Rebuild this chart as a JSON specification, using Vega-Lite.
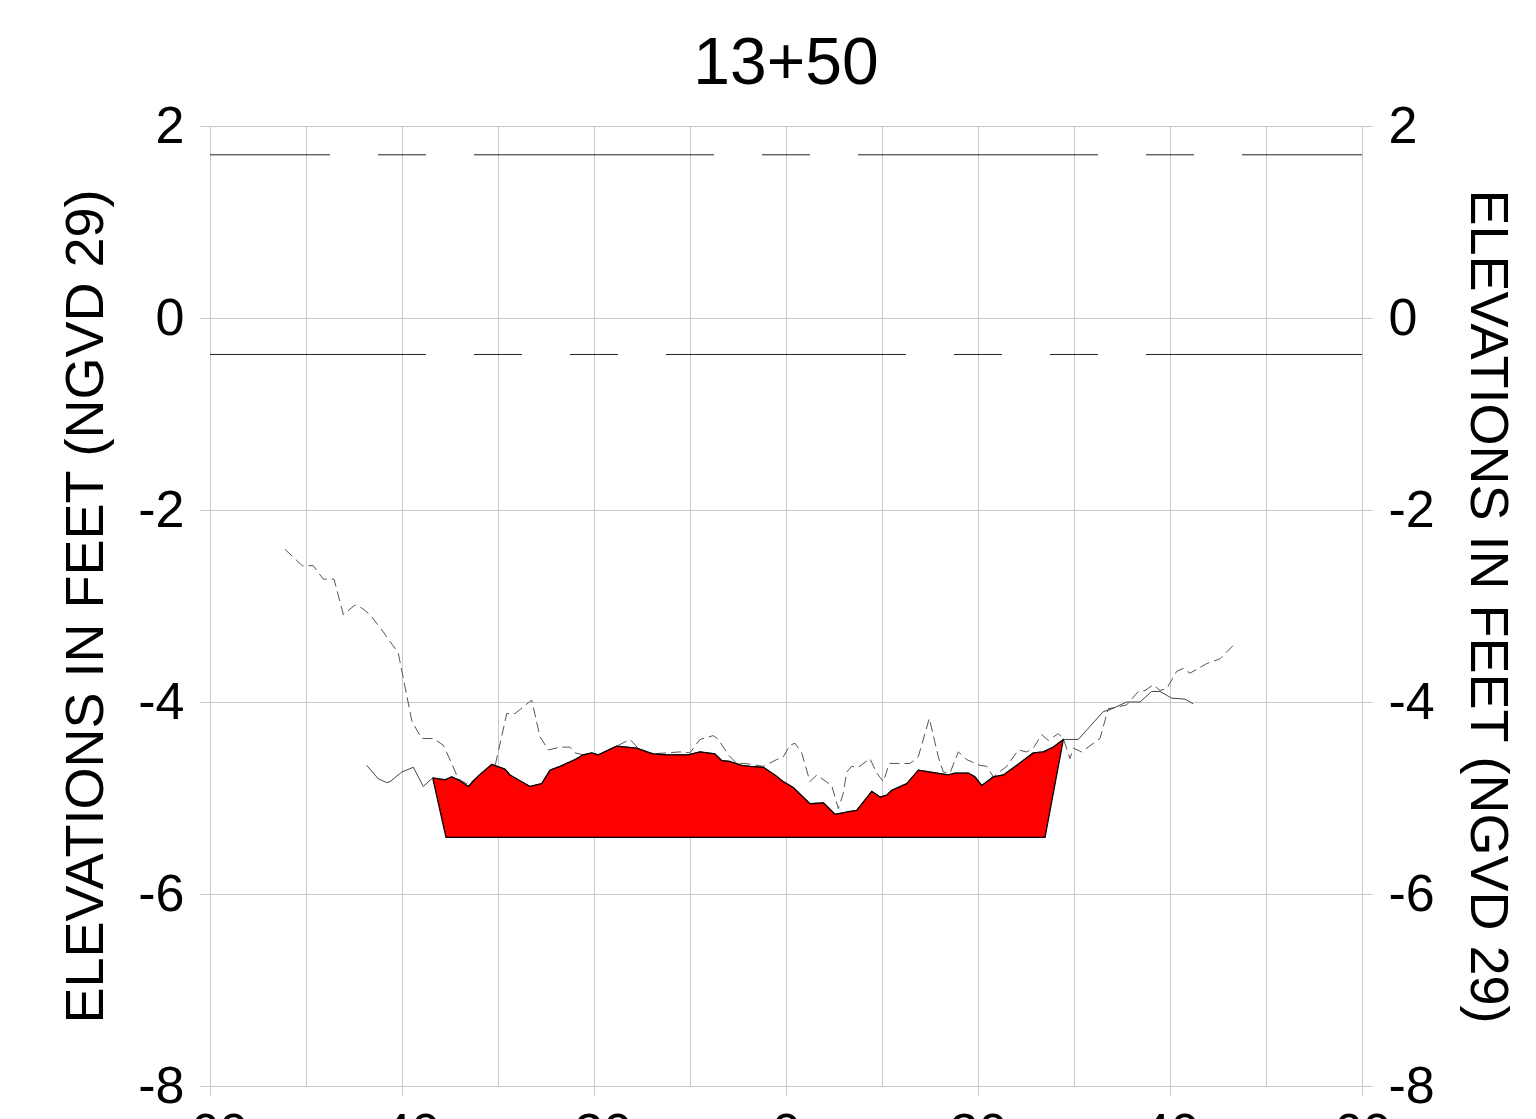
{
  "$schema": "https://vega.github.io/schema/vega-lite/v6.json",
  "width": 1152,
  "height": 960,
  "autosize": "none",
  "padding": {"left": 210, "top": 126, "right": 174, "bottom": 33},
  "background": "white",
  "title": {"text": "13+50", "fontSize": 66, "font": "Liberation Sans", "fontWeight": "normal", "color": "black", "anchor": "middle", "baseline": "alphabetic", "offset": -50},
  "config": {
    "view": {"stroke": null},
    "axis": {
      "labelFont": "Liberation Sans", "titleFont": "Liberation Sans",
      "labelFontSize": 52, "titleFontSize": 54,
      "labelColor": "black", "titleColor": "black", "titleFontWeight": "normal",
      "domain": false, "gridColor": "#c8c8c8", "gridWidth": 1, "gridOpacity": 1,
      "tickColor": "#c8c8c8", "tickSize": 10, "tickWidth": 1,
      "labelOverlap": false, "labelFlush": false
    }
  },
  "datasets": {
    "survey1": [
      {"station": -52.19, "elev": -2.41}, {"station": -50.39, "elev": -2.58}, {"station": -49.24, "elev": -2.58},
      {"station": -48.2, "elev": -2.72}, {"station": -47.08, "elev": -2.72}, {"station": -46.11, "elev": -3.09},
      {"station": -44.9, "elev": -2.99}, {"station": -44.2, "elev": -3.02}, {"station": -43.33, "elev": -3.09},
      {"station": -41.95, "elev": -3.27}, {"station": -40.39, "elev": -3.49}, {"station": -38.99, "elev": -4.19},
      {"station": -38.47, "elev": -4.29}, {"station": -37.95, "elev": -4.38}, {"station": -36.74, "elev": -4.38},
      {"station": -35.7, "elev": -4.45}, {"station": -34.82, "elev": -4.64}, {"station": -34.14, "elev": -4.8},
      {"station": -33.1, "elev": -4.86}, {"station": -31.9, "elev": -4.76}, {"station": -30.31, "elev": -4.67},
      {"station": -29.09, "elev": -4.12}, {"station": -28.23, "elev": -4.12}, {"station": -26.49, "elev": -3.98},
      {"station": -25.63, "elev": -4.36}, {"station": -24.76, "elev": -4.5}, {"station": -23.54, "elev": -4.47},
      {"station": -22.5, "elev": -4.47}, {"station": -21.98, "elev": -4.53}, {"station": -21.15, "elev": -4.55},
      {"station": -19.6, "elev": -4.55}, {"station": -17.64, "elev": -4.46}, {"station": -16.25, "elev": -4.39},
      {"station": -15.42, "elev": -4.48}, {"station": -13.85, "elev": -4.54}, {"station": -11.04, "elev": -4.52},
      {"station": -10.0, "elev": -4.53}, {"station": -8.96, "elev": -4.39}, {"station": -7.57, "elev": -4.35},
      {"station": -7.05, "elev": -4.39}, {"station": -6.01, "elev": -4.55}, {"station": -5.14, "elev": -4.64},
      {"station": -4.27, "elev": -4.64}, {"station": -2.36, "elev": -4.67}, {"station": -0.97, "elev": -4.6},
      {"station": -0.28, "elev": -4.57}, {"station": 0.42, "elev": -4.45}, {"station": 0.94, "elev": -4.43},
      {"station": 1.64, "elev": -4.53}, {"station": 2.5, "elev": -4.83}, {"station": 3.2, "elev": -4.76},
      {"station": 4.76, "elev": -4.87}, {"station": 5.45, "elev": -5.11}, {"station": 5.97, "elev": -4.95},
      {"station": 6.32, "elev": -4.73}, {"station": 6.84, "elev": -4.67}, {"station": 7.53, "elev": -4.68},
      {"station": 8.75, "elev": -4.59}, {"station": 9.45, "elev": -4.74}, {"station": 10.14, "elev": -4.83},
      {"station": 10.76, "elev": -4.64}, {"station": 11.88, "elev": -4.64}, {"station": 12.92, "elev": -4.64},
      {"station": 13.78, "elev": -4.57}, {"station": 14.93, "elev": -4.17}, {"station": 15.86, "elev": -4.57},
      {"station": 16.39, "elev": -4.73}, {"station": 17.08, "elev": -4.74}, {"station": 17.95, "elev": -4.52},
      {"station": 18.82, "elev": -4.6}, {"station": 20.21, "elev": -4.66}, {"station": 20.91, "elev": -4.67},
      {"station": 21.59, "elev": -4.78}, {"station": 22.99, "elev": -4.67}, {"station": 24.2, "elev": -4.5},
      {"station": 25.07, "elev": -4.52}, {"station": 25.76, "elev": -4.48}, {"station": 26.64, "elev": -4.34},
      {"station": 27.32, "elev": -4.4}, {"station": 28.36, "elev": -4.33}, {"station": 28.89, "elev": -4.38},
      {"station": 29.58, "elev": -4.59}, {"station": 29.93, "elev": -4.48}, {"station": 30.8, "elev": -4.52},
      {"station": 32.71, "elev": -4.38}, {"station": 33.57, "elev": -4.07}, {"station": 34.61, "elev": -4.05},
      {"station": 35.49, "elev": -4.03}, {"station": 36.7, "elev": -3.89}, {"station": 37.4, "elev": -3.88},
      {"station": 38.26, "elev": -3.82}, {"station": 38.96, "elev": -3.88}, {"station": 39.66, "elev": -3.86},
      {"station": 40.7, "elev": -3.68}, {"station": 41.39, "elev": -3.65}, {"station": 42.08, "elev": -3.7},
      {"station": 42.95, "elev": -3.65}, {"station": 43.82, "elev": -3.6}, {"station": 45.21, "elev": -3.55},
      {"station": 46.59, "elev": -3.41}
    ],
    "survey2": [
      {"station": -43.68, "elev": -4.66}, {"station": -42.47, "elev": -4.8}, {"station": -41.59, "elev": -4.84},
      {"station": -41.25, "elev": -4.83}, {"station": -40.03, "elev": -4.73}, {"station": -38.82, "elev": -4.68},
      {"station": -37.78, "elev": -4.88}, {"station": -36.8, "elev": -4.79}, {"station": -36.22, "elev": -4.8},
      {"station": -35.52, "elev": -4.81}, {"station": -34.82, "elev": -4.78}, {"station": -34.14, "elev": -4.81},
      {"station": -33.09, "elev": -4.88}, {"station": -32.05, "elev": -4.77}, {"station": -30.66, "elev": -4.65},
      {"station": -29.27, "elev": -4.7}, {"station": -28.75, "elev": -4.76}, {"station": -26.67, "elev": -4.88},
      {"station": -25.45, "elev": -4.85}, {"station": -24.58, "elev": -4.71}, {"station": -23.54, "elev": -4.67},
      {"station": -21.98, "elev": -4.6}, {"station": -21.11, "elev": -4.55}, {"station": -20.24, "elev": -4.53},
      {"station": -19.55, "elev": -4.55}, {"station": -18.68, "elev": -4.51}, {"station": -17.64, "elev": -4.46},
      {"station": -16.59, "elev": -4.47}, {"station": -15.55, "elev": -4.48}, {"station": -14.51, "elev": -4.52},
      {"station": -13.82, "elev": -4.54}, {"station": -12.43, "elev": -4.55}, {"station": -10.18, "elev": -4.55},
      {"station": -8.96, "elev": -4.52}, {"station": -7.4, "elev": -4.54}, {"station": -6.7, "elev": -4.61},
      {"station": -5.83, "elev": -4.62}, {"station": -4.61, "elev": -4.66}, {"station": -3.75, "elev": -4.67},
      {"station": -2.36, "elev": -4.68}, {"station": -1.15, "elev": -4.76}, {"station": -0.28, "elev": -4.83},
      {"station": 0.76, "elev": -4.89}, {"station": 2.5, "elev": -5.06}, {"station": 3.89, "elev": -5.05},
      {"station": 5.1, "elev": -5.17}, {"station": 6.67, "elev": -5.14}, {"station": 7.36, "elev": -5.13},
      {"station": 8.93, "elev": -4.93}, {"station": 9.79, "elev": -4.99}, {"station": 10.49, "elev": -4.97},
      {"station": 11.01, "elev": -4.92}, {"station": 12.57, "elev": -4.85}, {"station": 13.78, "elev": -4.71},
      {"station": 15.7, "elev": -4.74}, {"station": 16.91, "elev": -4.76}, {"station": 17.6, "elev": -4.74},
      {"station": 18.99, "elev": -4.74}, {"station": 19.69, "elev": -4.78}, {"station": 20.39, "elev": -4.87},
      {"station": 21.59, "elev": -4.78}, {"station": 22.64, "elev": -4.76}, {"station": 24.03, "elev": -4.66},
      {"station": 25.76, "elev": -4.53}, {"station": 26.8, "elev": -4.52}, {"station": 27.84, "elev": -4.47},
      {"station": 28.89, "elev": -4.39}, {"station": 30.45, "elev": -4.39}, {"station": 33.05, "elev": -4.1},
      {"station": 33.75, "elev": -4.08}, {"station": 35.49, "elev": -4.0}, {"station": 36.88, "elev": -4.0},
      {"station": 38.09, "elev": -3.89}, {"station": 38.96, "elev": -3.89}, {"station": 40.18, "elev": -3.96},
      {"station": 41.56, "elev": -3.97}, {"station": 42.43, "elev": -4.02}
    ],
    "section": [
      {"i": 1, "station": -36.8, "elev": -4.79}, {"i": 2, "station": -36.22, "elev": -4.8}, {"i": 3, "station": -35.52, "elev": -4.81},
      {"i": 4, "station": -34.82, "elev": -4.78}, {"i": 5, "station": -34.14, "elev": -4.81}, {"i": 6, "station": -33.09, "elev": -4.88},
      {"i": 7, "station": -32.05, "elev": -4.77}, {"i": 8, "station": -30.66, "elev": -4.65}, {"i": 9, "station": -29.27, "elev": -4.7},
      {"i": 10, "station": -28.75, "elev": -4.76}, {"i": 11, "station": -26.67, "elev": -4.88}, {"i": 12, "station": -25.45, "elev": -4.85},
      {"i": 13, "station": -24.58, "elev": -4.71}, {"i": 14, "station": -23.54, "elev": -4.67}, {"i": 15, "station": -21.98, "elev": -4.6},
      {"i": 16, "station": -21.11, "elev": -4.55}, {"i": 17, "station": -20.24, "elev": -4.53}, {"i": 18, "station": -19.55, "elev": -4.55},
      {"i": 19, "station": -18.68, "elev": -4.51}, {"i": 20, "station": -17.64, "elev": -4.46}, {"i": 21, "station": -16.59, "elev": -4.47},
      {"i": 22, "station": -15.55, "elev": -4.48}, {"i": 23, "station": -14.51, "elev": -4.52}, {"i": 24, "station": -13.82, "elev": -4.54},
      {"i": 25, "station": -12.43, "elev": -4.55}, {"i": 26, "station": -10.18, "elev": -4.55}, {"i": 27, "station": -8.96, "elev": -4.52},
      {"i": 28, "station": -7.4, "elev": -4.54}, {"i": 29, "station": -6.7, "elev": -4.61}, {"i": 30, "station": -5.83, "elev": -4.62},
      {"i": 31, "station": -4.61, "elev": -4.66}, {"i": 32, "station": -3.75, "elev": -4.67}, {"i": 33, "station": -2.36, "elev": -4.68},
      {"i": 34, "station": -1.15, "elev": -4.76}, {"i": 35, "station": -0.28, "elev": -4.83}, {"i": 36, "station": 0.76, "elev": -4.89},
      {"i": 37, "station": 2.5, "elev": -5.06}, {"i": 38, "station": 3.89, "elev": -5.05}, {"i": 39, "station": 5.1, "elev": -5.17},
      {"i": 40, "station": 6.67, "elev": -5.14}, {"i": 41, "station": 7.36, "elev": -5.13}, {"i": 42, "station": 8.93, "elev": -4.93},
      {"i": 43, "station": 9.79, "elev": -4.99}, {"i": 44, "station": 10.49, "elev": -4.97}, {"i": 45, "station": 11.01, "elev": -4.92},
      {"i": 46, "station": 12.57, "elev": -4.85}, {"i": 47, "station": 13.78, "elev": -4.71}, {"i": 48, "station": 15.7, "elev": -4.74},
      {"i": 49, "station": 16.91, "elev": -4.76}, {"i": 50, "station": 17.6, "elev": -4.74}, {"i": 51, "station": 18.99, "elev": -4.74},
      {"i": 52, "station": 19.69, "elev": -4.78}, {"i": 53, "station": 20.39, "elev": -4.87}, {"i": 54, "station": 21.59, "elev": -4.78},
      {"i": 55, "station": 22.64, "elev": -4.76}, {"i": 56, "station": 24.03, "elev": -4.66}, {"i": 57, "station": 25.76, "elev": -4.53},
      {"i": 58, "station": 26.8, "elev": -4.52}, {"i": 59, "station": 27.84, "elev": -4.47}, {"i": 60, "station": 28.89, "elev": -4.39},
      {"i": 61, "station": 26.98, "elev": -5.41}, {"i": 62, "station": -35.42, "elev": -5.41}, {"i": 63, "station": -36.8, "elev": -4.79}
    ],
    "level1": [{"elev": 1.7}],
    "level2": [{"elev": -0.38}]
  },
  "resolve": {"axis": {"y": "independent"}},
  "layer": [
    {
      "data": {"name": "survey1"},
      "mark": {"type": "line", "color": "#555555", "strokeWidth": 1, "strokeDash": [10, 5]},
      "encoding": {
        "x": {
          "field": "station", "type": "quantitative",
          "scale": {"domain": [-60, 60], "nice": false, "zero": false},
          "axis": {
            "values": [-60, -50, -40, -30, -20, -10, 0, 10, 20, 30, 40, 50, 60],
            "grid": true, "title": null, "labelPadding": 12,
            "labelExpr": "datum.value % 20 === 0 ? '' + datum.value : ''",
            "tickOpacity": {"condition": {"test": "datum.value % 20 !== 0", "value": 0}, "value": 1}
          }
        },
        "y": {
          "field": "elev", "type": "quantitative",
          "scale": {"domain": [-8, 2], "nice": false, "zero": false},
          "axis": {
            "orient": "left", "values": [-8, -6, -4, -2, 0, 2], "grid": true,
            "labelPadding": 16, "labelExpr": "'' + datum.value",
            "title": "ELEVATIONS IN FEET (NGVD 29)", "titleAngle": -90, "titleX": -108, "titleY": 480,
            "titleAlign": "center", "titleBaseline": "alphabetic"
          }
        }
      }
    },
    {
      "data": {"name": "survey2"},
      "mark": {"type": "line", "color": "#444444", "strokeWidth": 1},
      "encoding": {
        "x": {"field": "station", "type": "quantitative"},
        "y": {
          "field": "elev", "type": "quantitative",
          "axis": {
            "orient": "right", "values": [-8, -6, -4, -2, 0, 2], "grid": false,
            "labelPadding": 16, "labelExpr": "'' + datum.value",
            "title": "ELEVATIONS IN FEET (NGVD 29)", "titleAngle": 90, "titleX": 108, "titleY": 480,
            "titleAlign": "center", "titleBaseline": "alphabetic"
          }
        }
      }
    },
    {
      "data": {"name": "section"},
      "mark": {"type": "line", "fill": "#ff0000", "stroke": "#000000", "strokeWidth": 1.3, "strokeJoin": "round"},
      "encoding": {
        "x": {"field": "station", "type": "quantitative"},
        "y": {"field": "elev", "type": "quantitative", "axis": null},
        "order": {"field": "i", "type": "quantitative"}
      }
    },
    {
      "data": {"name": "level1"},
      "mark": {"type": "rule", "color": "#222222", "strokeWidth": 1, "strokeDash": [240, 48, 48, 48], "strokeDashOffset": 120},
      "encoding": {"y": {"field": "elev", "type": "quantitative", "axis": null}}
    },
    {
      "data": {"name": "level2"},
      "mark": {"type": "rule", "color": "#222222", "strokeWidth": 1, "strokeDash": [240, 48, 48, 48, 48, 48], "strokeDashOffset": 24},
      "encoding": {"y": {"field": "elev", "type": "quantitative", "axis": null}}
    }
  ]
}
